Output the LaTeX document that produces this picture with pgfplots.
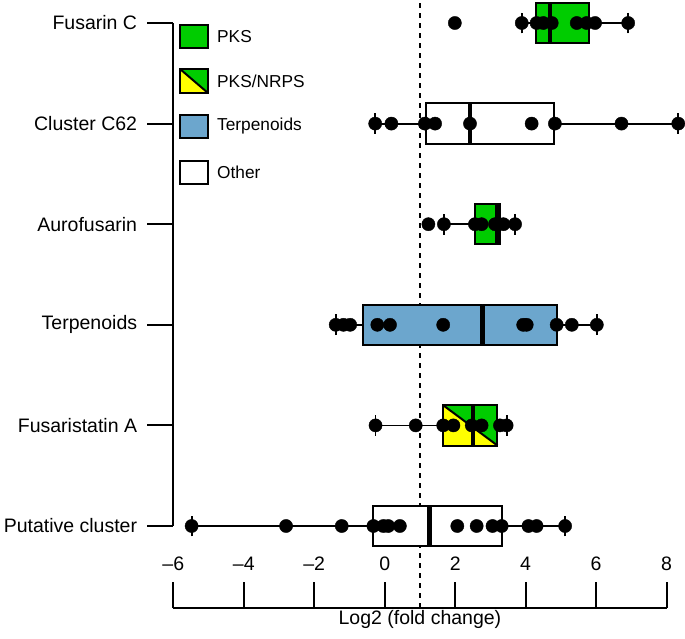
\documentclass[border=0pt]{standalone}
\usepackage{pgfplots}
\pgfplotsset{compat=1.18}
\usepgfplotslibrary{statistics}
\usepackage{fontspec}
\setmainfont{Liberation Sans}
\definecolor{pksgreen}{RGB}{0,204,0}
\definecolor{terpblue}{RGB}{108,166,205}
\definecolor{nrpsyellow}{RGB}{255,255,0}
\newcommand{\catfont}{\fontsize{19.5}{23}\selectfont}
\newcommand{\legfont}{\fontsize{17.3}{20}\selectfont}
\begin{document}
\begin{tikzpicture}
\useasboundingbox (-173.3pt,-112pt) rectangle (511.7pt,526pt);
\begin{axis}[
  scale only axis, width=493.3pt, height=503pt,
  xmin=-6, xmax=8, ymin=1, ymax=6, clip=false,
  axis x line=none, axis y line*=left,
  axis line style={line width=2pt},
  ytick={1,2,3,4,5,6},
  yticklabels={Putative cluster, Fusaristatin A, Terpenoids, Aurofusarin, Cluster C62, Fusarin C},
  tick align=outside, major tick length=26pt,
  ytick style={line width=2pt, black},
  yticklabel style={font=\catfont, inner sep=0pt, xshift=-10pt},
  boxplot/draw direction=x,
  boxplot/box extend=0.4,
  boxplot/whisker extend=0.205,
  boxplot/every median/.style={line width=4.5pt},
  boxplot/every whisker/.style={line width=1.8pt},
  boxplot/every box/.style={line width=2pt},
]
% reference line
\addplot[line width=2.5pt, dash pattern=on 4.5pt off 5.5pt] coordinates {(1,0.185) (1,6.23)};
% boxes
\addplot[draw=black, fill=pksgreen, boxplot prepared={lower whisker=3.89, lower quartile=4.29, median=4.69, upper quartile=5.80, upper whisker=6.91, draw position=6}] coordinates {};
\addplot[draw=black, fill=white, boxplot prepared={lower whisker=-0.27, lower quartile=1.16, median=2.42, upper quartile=4.81, upper whisker=8.33, draw position=5}] coordinates {};
\addplot[draw=black, fill=pksgreen, boxplot prepared={lower whisker=1.68, lower quartile=2.56, median=3.18, upper quartile=3.27, upper whisker=3.70, draw position=4}] coordinates {};
\addplot[draw=black, fill=terpblue, boxplot prepared={lower whisker=-1.39, lower quartile=-0.61, median=2.78, upper quartile=4.88, upper whisker=6.02, draw position=3}] coordinates {};
\addplot[fill=nrpsyellow, draw=none] coordinates {(1.66,2.2) (3.20,1.8) (1.66,1.8)} -- cycle;
\addplot[fill=pksgreen, draw=none] coordinates {(1.66,2.2) (3.20,2.2) (3.20,1.8)} -- cycle;
\addplot[line width=2pt] coordinates {(1.66,2.2) (3.20,1.8)};
\addplot[draw=black, boxplot prepared={lower whisker=-0.26, lower quartile=1.66, median=2.51, upper quartile=3.20, upper whisker=3.46, draw position=2}] coordinates {};
\addplot[draw=black, fill=white, boxplot prepared={lower whisker=-5.48, lower quartile=-0.32, median=1.27, upper quartile=3.34, upper whisker=5.12, draw position=1}] coordinates {};
% points
\addplot[only marks, mark=*, mark size=6.6pt, black] coordinates {
(1.99,6) (3.89,6) (4.31,6) (4.50,6) (4.74,6) (5.45,6) (5.73,6) (5.97,6) (6.91,6)
(-0.27,5) (0.19,5) (1.14,5) (1.43,5) (2.42,5) (4.17,5) (4.83,5) (6.72,5) (8.33,5)
(1.24,4) (1.68,4) (2.56,4) (2.75,4) (3.13,4) (3.37,4) (3.70,4)
(-1.39,3) (-1.17,3) (-0.98,3) (-0.21,3) (0.15,3) (1.66,3) (3.93,3) (4.03,3) (4.88,3) (5.31,3) (6.02,3)
(-0.26,2) (0.88,2) (1.66,2) (1.95,2) (2.47,2) (2.75,2) (3.27,2) (3.46,2)
(-5.48,1) (-2.80,1) (-1.22,1) (-0.32,1) (-0.04,1) (0.10,1) (0.43,1) (2.06,1) (2.61,1) (3.06,1) (3.32,1) (4.08,1) (4.31,1) (5.12,1)
};
\end{axis}
\begin{axis}[
  at={(0pt,-82pt)},
  scale only axis, width=493.3pt, height=20pt,
  xmin=-6, xmax=8, ymin=0, ymax=1,
  axis y line=none, axis x line*=bottom,
  axis line style={line width=2pt},
  xtick={-6,-4,-2,0,2,4,6,8},
  xticklabels={–6,–4,–2,0,2,4,6,8},
  tick align=inside, major tick length=26pt,
  xtick style={line width=2pt, black},
  xticklabel style={font=\catfont, anchor=base, yshift=38pt},
  xlabel={Log2 (fold change)},
  xlabel style={font=\catfont, at={(axis description cs:0.5,0)}, anchor=base, yshift=-16pt},
]
\end{axis}
% legend
\draw[line width=2pt, fill=pksgreen] (6.7pt,478pt) rectangle (34.7pt,501pt);
\fill[nrpsyellow] (6.7pt,457pt) -- (34.7pt,433pt) -- (6.7pt,433pt) -- cycle;
\fill[pksgreen] (6.7pt,457pt) -- (34.7pt,457pt) -- (34.7pt,433pt) -- cycle;
\draw[line width=2pt] (6.7pt,457pt) -- (34.7pt,433pt);
\draw[line width=2pt] (6.7pt,433pt) rectangle (34.7pt,457pt);
\draw[line width=2pt, fill=terpblue] (6.7pt,388pt) rectangle (34.7pt,411pt);
\draw[line width=2pt, fill=white] (6.7pt,342pt) rectangle (34.7pt,365pt);
\node[anchor=west, inner sep=0pt, font=\legfont] at (43.7pt,489.5pt) {PKS};
\node[anchor=west, inner sep=0pt, font=\legfont] at (43.7pt,445pt) {PKS/NRPS};
\node[anchor=west, inner sep=0pt, font=\legfont] at (43.7pt,399.5pt) {Terpenoids};
\node[anchor=west, inner sep=0pt, font=\legfont] at (43.7pt,353.5pt) {Other};
\end{tikzpicture}
\end{document}
